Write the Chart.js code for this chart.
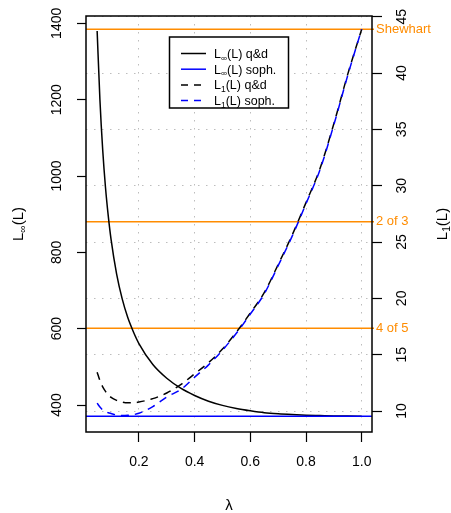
<!DOCTYPE html>
<html>
<head>
<meta charset="utf-8">
<script src="https://cdn.jsdelivr.net/npm/chart.js@4.4.1/dist/chart.umd.min.js"></script>
<style>
  html, body { margin: 0; padding: 0; background: #fff; }
  canvas { display: block; }
</style>
</head>
<body>
<canvas id="arl" width="451" height="513"></canvas>
<script>
// smoothing constant
const lambdas = [0.05, 0.06, 0.07, 0.08, 0.09, 0.10, 0.12, 0.14, 0.16, 0.18, 0.20, 0.25, 0.30,
  0.35, 0.40, 0.45, 0.50, 0.55, 0.60, 0.65, 0.70, 0.75, 0.80, 0.85, 0.90, 0.95, 1.00];

// in-control ARL (left axis)
const arl0Quick = [1380, 1200, 1068, 970, 895, 834, 743, 678, 629, 592, 561, 506, 470,
  444, 425, 410, 399, 391, 385, 380, 377, 375, 373.5, 372.5, 371.5, 371, 370.4];
// the sophisticated limits hold the in-control ARL fixed for every lambda
const arl0Soph = 370.4;

// out-of-control ARL, shift of 1 sigma (right axis)
const arl1Quick = [13.45, 12.7, 12.15, 11.75, 11.45, 11.22, 10.95, 10.8, 10.74, 10.74, 10.8, 11.1, 11.6,
  12.35, 13.3, 14.3, 15.5, 17.0, 18.7, 20.5, 23.0, 25.6, 28.5, 31.5, 35.5, 39.9, 43.89];
const arl1Soph = [10.7, 10.35, 10.1, 9.95, 9.85, 9.78, 9.65, 9.6, 9.62, 9.68, 9.8, 10.4, 11.25,
  11.9, 13.0, 14.1, 15.4, 16.9, 18.6, 20.4, 22.9, 25.5, 28.4, 31.4, 35.4, 39.8, 43.89];

// run rules for comparison, ARL1 on right axis
const ruleNames = ['Shewhart', '2 of 3', '4 of 5'];
const ruleArl1 = [43.89, 26.8, 17.35];

const xTicks = [0.2, 0.4, 0.6, 0.8, 1.0];
const leftTicks = [400, 600, 800, 1000, 1200, 1400];
const rightTicks = [10, 15, 20, 25, 30, 35, 40, 45];
const xMin = 0.01, xMax = 1.037;

const FONT = '"Liberation Sans", Arial, Helvetica, sans-serif';
const ORANGE = '#ff8c00';
const BLUE = '#0000ff';

const pts = (ys) => lambdas.map((l, i) => ({ x: l, y: ys[i] }));

// "L" + subscript + rest, left aligned at x on baseline y
function subLabelWidth(ctx, sub, rest, size) {
  ctx.font = size + 'px ' + FONT;
  let w = ctx.measureText('L').width + ctx.measureText(rest).width;
  ctx.font = (size * 0.68) + 'px ' + FONT;
  return w + ctx.measureText(sub).width;
}
function drawSubLabel(ctx, x, y, sub, rest, size) {
  ctx.textAlign = 'left';
  ctx.textBaseline = 'alphabetic';
  ctx.font = size + 'px ' + FONT;
  ctx.fillText('L', x, y);
  x += ctx.measureText('L').width;
  ctx.font = (size * 0.68) + 'px ' + FONT;
  ctx.fillText(sub, x, y + size * 0.2);
  x += ctx.measureText(sub).width;
  ctx.font = size + 'px ' + FONT;
  ctx.fillText(rest, x, y);
}

const ruleLines = {
  id: 'ruleLines',
  beforeDatasetsDraw(chart) {
    const { ctx, chartArea: a, scales } = chart;
    ctx.save();
    ctx.strokeStyle = ORANGE;
    ctx.fillStyle = ORANGE;
    ctx.lineWidth = 1.5;
    ctx.font = '13px ' + FONT;
    ctx.textAlign = 'left';
    ctx.textBaseline = 'middle';
    ruleArl1.forEach((v, i) => {
      const y = scales.y1.getPixelForValue(v);
      ctx.beginPath();
      ctx.moveTo(a.left, y);
      ctx.lineTo(a.right + 2, y);
      ctx.stroke();
      ctx.fillText(ruleNames[i], a.right + 4, y);
    });
    ctx.restore();
  }
};

const frame = {
  id: 'frame',
  afterDraw(chart) {
    const { ctx, chartArea: a, scales } = chart;
    ctx.save();
    ctx.strokeStyle = '#000';
    ctx.lineWidth = 1.5;
    ctx.strokeRect(a.left, a.top, a.right - a.left, a.bottom - a.top);

    ctx.fillStyle = '#000';
    ctx.font = '14px ' + FONT;
    ctx.textAlign = 'center';
    ctx.textBaseline = 'middle';
    xTicks.forEach(v => {
      ctx.fillText(v.toFixed(1), scales.x.getPixelForValue(v), 462);
    });
    const vertical = (txt, x, y) => {
      ctx.save();
      ctx.translate(x, y);
      ctx.rotate(-Math.PI / 2);
      ctx.fillText(txt, 0, 0);
      ctx.restore();
    };
    leftTicks.forEach(v => vertical(String(v), 57.5, scales.y.getPixelForValue(v)));
    rightTicks.forEach(v => vertical(String(v), 402.5, scales.y1.getPixelForValue(v)));

    // axis titles
    ctx.font = '15px ' + FONT;
    ctx.fillText('\u03bb', (a.left + a.right) / 2, 506);
    const midY = (a.top + a.bottom) / 2;
    [[17.5, '\u221e'], [442, '1']].forEach(([x, sub]) => {
      ctx.save();
      ctx.translate(x, midY);
      ctx.rotate(-Math.PI / 2);
      const w = subLabelWidth(ctx, sub, '(L)', 15);
      drawSubLabel(ctx, -w / 2, 5, sub, '(L)', 15);
      ctx.restore();
    });

    // legend
    const box = { x: 169.5, y: 37, w: 119, h: 71 };
    ctx.fillStyle = '#fff';
    ctx.fillRect(box.x, box.y, box.w, box.h);
    ctx.lineWidth = 1.5;
    ctx.strokeRect(box.x, box.y, box.w, box.h);
    const entries = [
      { sub: '\u221e', rest: '(L) q&d', color: '#000', dash: [] },
      { sub: '\u221e', rest: '(L) soph.', color: BLUE, dash: [] },
      { sub: '1', rest: '(L) q&d', color: '#000', dash: [7, 6] },
      { sub: '1', rest: '(L) soph.', color: BLUE, dash: [7, 6] }
    ];
    entries.forEach((e, i) => {
      const y = 53.5 + i * 15.7;
      ctx.strokeStyle = e.color;
      ctx.setLineDash(e.dash);
      ctx.beginPath();
      ctx.moveTo(181, y);
      ctx.lineTo(206, y);
      ctx.stroke();
      ctx.setLineDash([]);
      ctx.fillStyle = '#000';
      drawSubLabel(ctx, 214, y + 4.5, e.sub, e.rest, 12.5);
    });
    ctx.restore();
  }
};

const dotted = { color: '#bdbdbd', lineWidth: 1, tickColor: '#000', tickWidth: 1.2, tickBorderDash: [] };

new Chart(document.getElementById('arl'), {
  type: 'line',
  data: {
    datasets: [
      { label: 'L1 soph.', data: pts(arl1Soph), yAxisID: 'y1', borderColor: BLUE, borderDash: [8, 6], order: 0 },
      { label: 'L1 q&d', data: pts(arl1Quick), yAxisID: 'y1', borderColor: '#000', borderDash: [8, 6], order: 1 },
      { label: 'Linf soph.', data: [{ x: xMin, y: arl0Soph }, { x: xMax, y: arl0Soph }], yAxisID: 'y', borderColor: BLUE, order: 2 },
      { label: 'Linf q&d', data: pts(arl0Quick), yAxisID: 'y', borderColor: '#000', order: 3 }
    ]
  },
  options: {
    responsive: false,
    animation: false,
    devicePixelRatio: 1,
    layout: { padding: { top: 16 } },
    elements: {
      point: { radius: 0 },
      line: { borderWidth: 1.5, cubicInterpolationMode: 'monotone', fill: false }
    },
    plugins: { legend: { display: false }, tooltip: { enabled: false } },
    scales: {
      x: {
        type: 'linear', min: xMin, max: xMax,
        afterBuildTicks: s => { s.ticks = xTicks.map(v => ({ value: v })); },
        afterFit: s => { s.height = 81; },
        grid: { ...dotted, drawOnChartArea: true, drawTicks: true, tickLength: 10 },
        border: { display: false, dash: [1.5, 6.5] },
        ticks: { display: false }
      },
      y: {
        position: 'left', min: 329.3, max: 1419.2,
        afterBuildTicks: s => { s.ticks = leftTicks.map(v => ({ value: v })); },
        afterFit: s => { s.width = 86; },
        grid: { ...dotted, drawOnChartArea: false, drawTicks: true, tickLength: 9 },
        border: { display: false },
        ticks: { display: false }
      },
      y1: {
        position: 'right', min: 8.14, max: 45.06,
        afterBuildTicks: s => { s.ticks = rightTicks.map(v => ({ value: v })); },
        afterFit: s => { s.width = 79; },
        grid: { ...dotted, drawOnChartArea: true, drawTicks: true, tickLength: 10 },
        border: { display: false, dash: [1.5, 6.5] },
        ticks: { display: false }
      }
    }
  },
  plugins: [ruleLines, frame]
});
</script>
</body>
</html>
